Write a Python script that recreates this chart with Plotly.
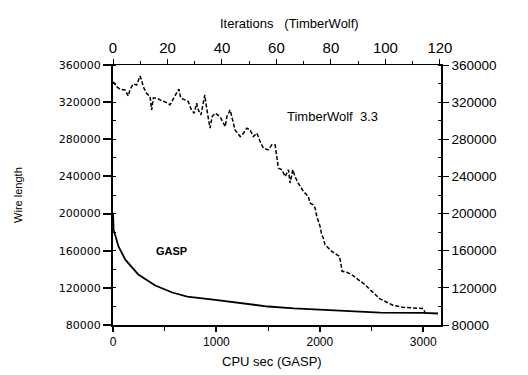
import plotly.graph_objects as go

# GASP curve (bottom axis: CPU sec)
gasp_cpu_sec = [0, 6, 54, 119, 245, 409, 573, 718, 969, 1250, 1500, 1750, 2003, 2583, 2998, 3143]
gasp_wire = [200000, 182700, 164400, 150400, 134300, 122500, 115000, 110600, 107400,
             103500, 99900, 97900, 96700, 93400, 93100, 92400]

# TimberWolf 3.3 curve (top axis: iterations)
tw_iter = [0.1, 1.3, 2.6, 4.4, 5.6, 6.2, 7.4, 8.7, 9.9, 10.5, 11.1, 12.3, 13.6, 14.2, 14.8,
           16.0, 17.8, 19.7, 20.9, 22.1, 23.3, 24.2, 24.9, 26.4, 27.6, 28.8, 29.8, 30.7, 31.3,
           32.3, 33.7, 34.3, 35.6, 36.4, 37.5, 39.3, 40.6, 41.2, 41.8, 43.0, 43.6, 44.8, 46.7,
           47.9, 49.1, 50.3, 51.5, 52.8, 54.0, 55.2, 57.0, 58.3, 59.5, 60.1, 60.7, 62.0, 63.2,
           64.4, 65.0, 66.0, 66.8, 68.0, 69.9, 71.7, 72.3, 73.5, 74.2, 74.8, 76.0, 76.6, 77.2,
           77.8, 79.0, 80.3, 82.1, 83.1, 83.6, 84.1, 85.8, 87.6, 90.0, 92.5, 94.3, 96.2, 98.0,
           100.5, 102.9, 106.5, 110.2, 113.9, 114.5]
tw_wire = [342000, 336700, 333900, 333100, 326700, 333100, 339600, 338500, 348200, 343900,
           336700, 329600, 325900, 311600, 324500, 324500, 321600, 319500, 317000, 324200,
           329600, 333900, 324200, 322400, 320600, 311600, 308100, 318800, 311600, 306300,
           327800, 315200, 292000, 304400, 308100, 304400, 297300, 293700, 304400, 311600,
           304400, 290100, 282900, 286600, 292000, 290100, 282900, 286600, 277600, 270500,
           268600, 274000, 274000, 261400, 249000, 247200, 239900, 247200, 232900, 247200,
           239900, 232900, 223800, 218500, 211400, 209500, 206000, 197000, 186200, 177300,
           173700, 166500, 163000, 159300, 155800, 154000, 146900, 137800, 136800, 134300,
           128900, 123500, 118200, 112800, 108200, 104500, 101000, 99100, 98500, 97700, 93800]

# Tick labels
y_ticks = [80000, 120000, 160000, 200000, 240000, 280000, 320000, 360000]
y_ticktext = [str(v) for v in y_ticks]
x_ticks = [0, 1000, 2000, 3000]
x2_ticks = [0, 20, 40, 60, 80, 100, 120]

fig = go.Figure()
fig.add_trace(go.Scatter(x=gasp_cpu_sec, y=gasp_wire, mode="lines",
                         line=dict(color="black", width=1.8), xaxis="x", yaxis="y",
                         showlegend=False, hoverinfo="skip"))
fig.add_trace(go.Scatter(x=tw_iter, y=tw_wire, mode="lines",
                         line=dict(color="black", width=1.5, dash="4px,2px"),
                         xaxis="x2", yaxis="y2", showlegend=False, hoverinfo="skip"))

yrange = [80000, 360000]
fig.update_layout(
    width=520, height=367,
    margin=dict(l=105, r=87, t=57, b=50),
    paper_bgcolor="white", plot_bgcolor="white",
    font=dict(family="Liberation Sans, Arial", color="black"),
    xaxis=dict(range=[0, 3172], tickvals=x_ticks, ticktext=[str(v) for v in x_ticks],
               showgrid=False, zeroline=False, showline=True, linecolor="black", linewidth=2,
               ticks="outside", ticklen=5, tickwidth=1.5, tickcolor="black",
               minor=dict(dtick=500, ticks="outside", ticklen=4, tickcolor="black", tickwidth=1),
               tickfont=dict(size=12, family="Liberation Sans, Arial Black"),
               tickprefix="<b>", ticksuffix="</b>"),
    xaxis2=dict(range=[0, 120.4], overlaying="x", side="top", anchor="y2",
                tickvals=x2_ticks, ticktext=[str(v) for v in x2_ticks],
                showgrid=False, zeroline=False, showline=True, linecolor="black", linewidth=1.2,
                ticks="outside", ticklen=5, tickwidth=1, tickcolor="black",
                minor=dict(dtick=10, ticks="outside", ticklen=3, tickcolor="black", tickwidth=1),
                tickfont=dict(size=15)),
    yaxis=dict(range=yrange, tickvals=y_ticks, ticktext=y_ticktext,
               showgrid=False, zeroline=False, showline=True, linecolor="black", linewidth=2,
               ticks="outside", ticklen=8, tickwidth=1.5, tickcolor="black",
               minor=dict(dtick=20000, ticks="inside", ticklen=3, tickcolor="black", tickwidth=1),
               tickfont=dict(size=11, family="DejaVu Sans")),
    yaxis2=dict(range=yrange, overlaying="y", side="right", anchor="x",
                tickvals=y_ticks, ticktext=y_ticktext,
                showgrid=False, zeroline=False, showline=True, linecolor="black", linewidth=1.5,
                ticks="outside", ticklen=6, tickwidth=1, tickcolor="black",
                minor=dict(dtick=20000, ticks="inside", ticklen=3, tickcolor="black", tickwidth=1),
                tickfont=dict(size=13.5)),
    annotations=[
        dict(text="Iterations   (TimberWolf)", xref="paper", yref="paper", x=0.537, y=1.161,
             showarrow=False, font=dict(size=13), xanchor="center", yanchor="middle"),
        dict(text="CPU sec (GASP)", xref="paper", yref="paper", x=0.486, y=-0.14,
             showarrow=False, font=dict(size=13), xanchor="center", yanchor="middle"),
        dict(text="Wire length", xref="paper", yref="paper", x=-0.29, y=0.5, textangle=-90,
             showarrow=False, font=dict(size=11), xanchor="center", yanchor="middle"),
        dict(text="TimberWolf  3.3", xref="x", yref="y", x=2124, y=304400,
             showarrow=False, font=dict(size=13), xanchor="center", yanchor="middle"),
        dict(text="<b>GASP</b>", xref="x", yref="y", x=563, y=159300,
             showarrow=False, font=dict(size=11), xanchor="center", yanchor="middle"),
    ],
)

fig.write_html("out.html")
